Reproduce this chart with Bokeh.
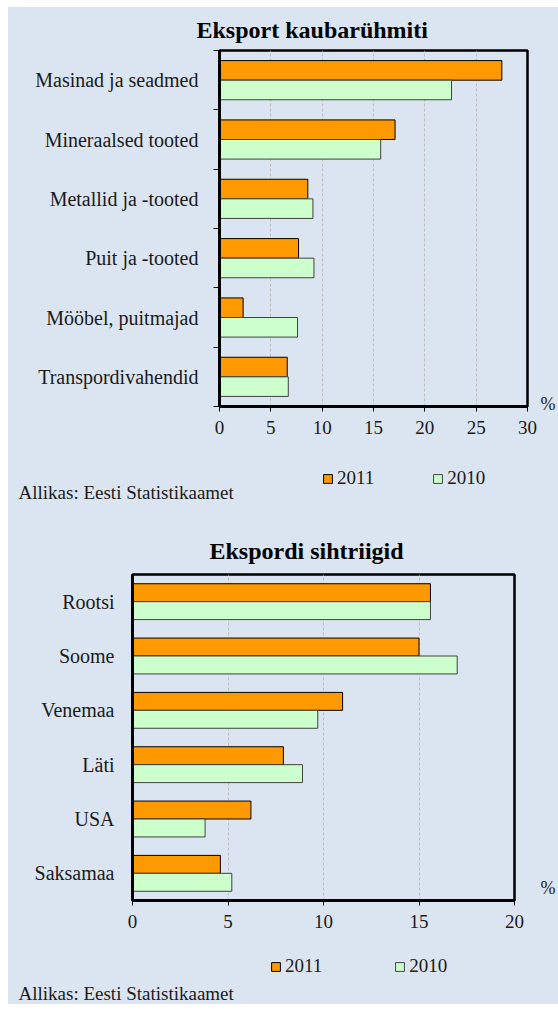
from bokeh.plotting import figure
from bokeh.models import (Range1d, LinearAxis, FixedTicker, Label,
                          Legend, LegendItem, ColumnDataSource)
from bokeh.transform import dodge
from bokeh.layouts import column
from bokeh.embed import file_html
from bokeh.resources import INLINE

BG = "#DBE5F1"
FONT = "Liberation Serif"
TXT = "#1A1A1A"
ORANGE = "#FF9900"
GREEN = "#CCFFCC"

# ---- data ----
years = ["2011", "2010"]
source_text = "Allikas: Eesti Statistikaamet"
unit_text = "%"

goods_title = "Eksport  kaubarühmiti"
goods = ["Masinad ja seadmed", "Mineraalsed tooted", "Metallid ja -tooted",
         "Puit ja -tooted", "Mööbel, puitmajad", "Transpordivahendid"]
goods_2011 = [27.5, 17.1, 8.6, 7.7, 2.3, 6.6]
goods_2010 = [22.6, 15.7, 9.1, 9.2, 7.6, 6.7]
goods_ticks = [0, 5, 10, 15, 20, 25, 30]

country_title = "Ekspordi sihtriigid"
countries = ["Rootsi", "Soome", "Venemaa", "Läti", "USA", "Saksamaa"]
countries_2011 = [15.6, 15.0, 11.0, 7.9, 6.2, 4.6]
countries_2010 = [15.6, 17.0, 9.7, 8.9, 3.8, 5.2]
country_ticks = [0, 5, 10, 15, 20]

X0 = 8
W = 550
AXIS_BORDER = 38
BAR_STYLE = {
    "2011": dict(fill_color=ORANGE, line_color="black", line_width=1),
    "2010": dict(fill_color=GREEN, line_color="#404040", line_width=1),
}


def make_chart(title, cats, v2011, v2010, ticks, fig_y0, frame,
               title_left, title_standoff, cat_standoff, boundary_ticks,
               pct_px, pct_standoff):
    L, T, R, B = frame
    n = len(cats)
    height = B + AXIS_BORDER - fig_y0
    p = figure(width=W, height=height,
               x_range=Range1d(ticks[0], ticks[-1]),
               y_range=Range1d(0, n),
               output_backend="svg", toolbar_location=None, y_axis_location=None,
               min_border_left=L - X0, min_border_right=X0 + W - R,
               min_border_top=T - fig_y0, min_border_bottom=AXIS_BORDER,
               frame_align=False)
    p.background_fill_color = BG
    p.border_fill_color = BG
    p.outline_line_color = "black"
    p.outline_line_width = 2.5

    centers = [n - i - 0.5 for i in range(n)]
    src = ColumnDataSource(dict(cat=cats, yc=centers, v2011=v2011, v2010=v2010))
    p.hbar(y=dodge("yc", 0.165), left=0, right="v2011",
           height=0.33, source=src, **BAR_STYLE["2011"])
    p.hbar(y=dodge("yc", -0.165), left=0, right="v2010",
           height=0.33, source=src, **BAR_STYLE["2010"])

    ax = p.xaxis[0]
    ax.ticker = FixedTicker(ticks=ticks)
    ax.axis_line_width = 3
    ax.axis_line_color = "black"
    ax.major_tick_in = 0
    ax.major_tick_out = 5
    ax.major_tick_line_color = "black"
    ax.minor_tick_line_color = None
    ax.major_label_text_font = FONT
    ax.major_label_text_font_size = "19px"
    ax.major_label_text_color = TXT
    ax.major_label_standoff = 9

    p.xgrid.ticker = FixedTicker(ticks=ticks)
    p.xgrid.grid_line_color = "#BDBDBD"
    p.xgrid.grid_line_dash = "3 2"
    p.ygrid.visible = False

    if boundary_ticks:
        tax = LinearAxis(ticker=FixedTicker(ticks=list(range(n + 1))),
                         major_label_overrides={i: "" for i in range(n + 1)},
                         major_tick_in=0, major_tick_out=6, axis_line_width=3,
                         axis_line_color="black", minor_tick_line_color=None,
                         major_label_standoff=0, major_label_text_font_size="1px")
        p.add_layout(tax, "left")
    cax = LinearAxis(ticker=FixedTicker(ticks=centers),
                     major_label_overrides={c: name for c, name in zip(centers, cats)},
                     major_tick_line_color=None, minor_tick_line_color=None,
                     axis_line_color=None if boundary_ticks else "black",
                     axis_line_width=3,
                     major_label_standoff=cat_standoff,
                     major_label_text_font=FONT,
                     major_label_text_font_size="20px",
                     major_label_text_color=TXT)
    p.add_layout(cax, "left")

    # unit sign at the right end of the value axis
    pct_y = pct_px / (B - T) * n
    uax = LinearAxis(ticker=FixedTicker(ticks=[pct_y]),
                     major_label_overrides={pct_y: unit_text},
                     axis_line_color=None, major_tick_line_color=None,
                     minor_tick_line_color=None, major_label_standoff=pct_standoff,
                     major_label_text_font=FONT, major_label_text_font_size="18px",
                     major_label_text_color=TXT)
    p.add_layout(uax, "right")

    p.title.text = title
    p.title.text_font = FONT
    p.title.text_font_size = "24px"
    p.title.text_font_style = "bold"
    p.title.text_color = "black"
    p.title.align = "left"
    p.title.offset = title_left - L
    p.title.standoff = title_standoff
    return p, src


def make_footer(src, y0, y1, legend_left, legend_mid, legend_spacing,
                source_left, source_mid):
    """Strip under a chart holding its legend and source note."""
    h = y1 - y0
    # ranges lie below zero, so the proxy bars (same data) stay out of view
    f = figure(width=W, height=h, x_range=Range1d(-2, -1), y_range=Range1d(-2, -1),
               output_backend="svg", toolbar_location=None,
               x_axis_location=None, y_axis_location=None,
               min_border_left=0, min_border_right=0, min_border_top=0,
               min_border_bottom=0, frame_align=False)
    f.background_fill_color = BG
    f.border_fill_color = BG
    f.outline_line_color = None
    f.grid.visible = False
    s11 = f.hbar(y="yc", left=0, right="v2011", height=0.33, source=src,
                 **BAR_STYLE["2011"])
    s10 = f.hbar(y="yc", left=0, right="v2010", height=0.33, source=src,
                 **BAR_STYLE["2010"])
    leg_h = 22
    leg = Legend(items=[LegendItem(label=years[0], renderers=[s11]),
                        LegendItem(label=years[1], renderers=[s10])],
                 location=(legend_left - X0, y1 - (legend_mid + leg_h / 2)),
                 orientation="horizontal",
                 glyph_width=11, glyph_height=11, label_standoff=4,
                 spacing=legend_spacing, padding=0, margin=0,
                 background_fill_alpha=0, border_line_color=None,
                 label_text_font=FONT, label_text_font_size="19px",
                 label_text_color=TXT, label_height=leg_h)
    f.add_layout(leg)
    f.add_layout(Label(x=source_left - X0, y=y1 - source_mid,
                       x_units="screen", y_units="screen", text=source_text,
                       text_font=FONT, text_font_size="19px", text_color=TXT,
                       text_baseline="middle"))
    return f


SPLIT = 518  # page row where the second chart's block begins

p1, src1 = make_chart(goods_title, goods, goods_2011, goods_2010, goods_ticks,
                      fig_y0=7, frame=(219, 49, 534, 406),
                      title_left=196, title_standoff=15, cat_standoff=9,
                      boundary_ticks=True, pct_px=3, pct_standoff=7)
f1 = make_footer(src1, 406 + AXIS_BORDER, SPLIT, legend_left=322, legend_mid=478,
                 legend_spacing=58, source_left=18, source_mid=492)
p2, src2 = make_chart(country_title, countries, countries_2011, countries_2010,
                      country_ticks, fig_y0=SPLIT, frame=(132, 574, 520, 900),
                      title_left=209, title_standoff=21, cat_standoff=12,
                      boundary_ticks=False, pct_px=13, pct_standoff=20)
f2 = make_footer(src2, 900 + AXIS_BORDER, 1004, legend_left=270, legend_mid=966,
                 legend_spacing=72, source_left=18, source_mid=993)

layout = column(p1, f1, p2, f2, spacing=0, margin=(7, 0, 0, 8),
                styles={"background-color": BG})
open("out.html", "w").write(file_html(layout, INLINE))
